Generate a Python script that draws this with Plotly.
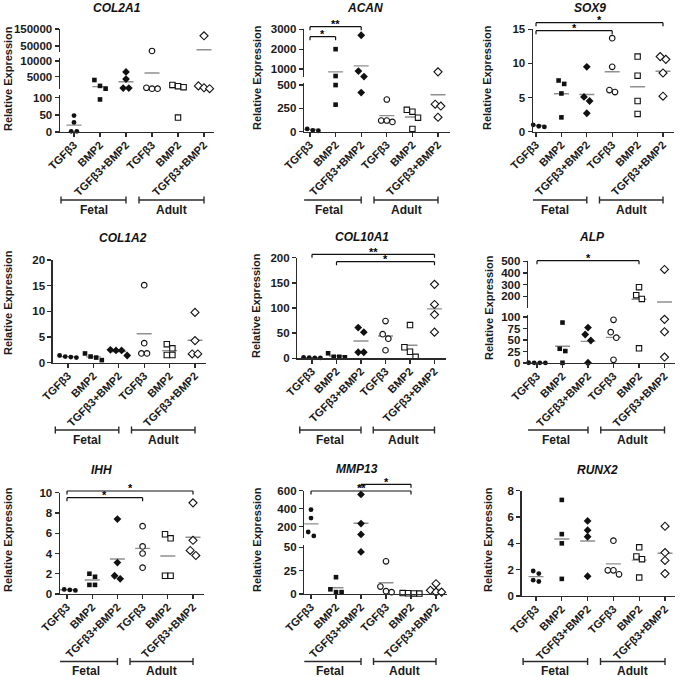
import numpy as np
import plotly.graph_objects as go

W, H = 680, 677

CATEGORIES = ["TGFβ3", "BMP2", "TGFβ3+BMP2", "TGFβ3", "BMP2", "TGFβ3+BMP2"]
GROUP_LABELS = ["Fetal", "Adult"]
Y_TITLE = "Relative Expression"

# Relative expression, 6 conditions x 4 donors
# order: Fetal TGFb3, Fetal BMP2, Fetal TGFb3+BMP2, Adult TGFb3, Adult BMP2, Adult TGFb3+BMP2
COL2A1 = [[48, 28, 2, 2], [3900, 2000, 1100, 95], [6500, 4200, 1300, 1300],
          [21000, 1400, 1100, 1100], [2300, 1900, 1600, 42], [110000, 2000, 1400, 1100]]
ACAN = [[45, 15, 10, 30], [2000, 650, 500, 290], [2700, 900, 620, 420],
        [345, 120, 105, 120], [215, 235, 150, 30], [860, 295, 275, 155]]
SOX9 = [[0.7, 1.1, 1.0, 0.8], [7.0, 7.5, 5.6, 2.1], [9.5, 5.1, 4.5, 2.7],
        [13.7, 9.5, 5.8, 6.1], [11.0, 8.2, 4.5, 2.6], [10.6, 11.0, 8.6, 5.2]]
COL1A2 = [[1.1, 1.0, 1.4, 1.2], [1.0, 1.8, 0.5, 1.2], [2.4, 1.4, 2.5, 2.4],
          [15.1, 3.8, 1.8, 1.8], [3.6, 2.8, 1.5, 1.5], [9.8, 4.3, 1.7, 1.7]]
COL10A1 = [[1.0, 1.5, 2.0, 1.0], [10, 3, 2, 3], [61, 52, 12, 12],
           [74, 48, 39, 16], [66, 22, 13, 3], [147, 107, 87, 52]]
ALP = [[0.5, 0.3, 0.4, 0.2], [88, 31, 26, 0.5], [77, 62, 49, 0.5],
       [94, 67, 55, 7], [278, 210, 178, 32], [430, 95, 68, 13]]
IHH = [[0.4, 0.35, 0.5, 0.45], [2.0, 1.7, 0.9, 0.9], [7.4, 3.1, 1.5, 1.8],
       [6.7, 4.7, 4.0, 2.6], [5.9, 5.5, 1.8, 1.8], [9.0, 5.3, 3.8, 4.3]]
MMP13 = [[390, 297, 142, 98], [18, 5, 2, 2], [560, 236, 115, 45],
         [35, 8, 2, 3], [0.5, 0.8, 1.0, 0.6], [11, 4, 2, 2]]
RUNX2 = [[1.9, 1.7, 1.1, 1.2], [7.3, 4.7, 4.0, 1.3], [5.7, 5.0, 4.5, 1.5],
         [4.2, 1.95, 1.65, 1.95], [3.7, 3.0, 2.8, 1.4], [5.3, 3.3, 2.7, 1.7]]

# y tick labels per axis segment (bottom segment first)
COL2A1_TICKS = [[0, 50, 100], [5000, 10000], [50000, 150000]]
ACAN_TICKS = [[0, 250, 500], [1000, 2000, 3000]]
SOX9_TICKS = [[0, 5, 10, 15]]
COL1A2_TICKS = [[0, 5, 10, 15, 20]]
COL10A1_TICKS = [[0, 50, 100, 150, 200]]
ALP_TICKS = [[0, 25, 50, 75, 100], [200, 300, 400, 500]]
IHH_TICKS = [[0, 2, 4, 6, 8, 10]]
MMP13_TICKS = [[0, 25, 50], [200, 400, 600]]
RUNX2_TICKS = [[0, 2, 4, 6, 8]]

# significance comparisons: (from condition, to condition, label)
ACAN_SIG = [(0, 1, "*"), (0, 2, "**")]
SOX9_SIG = [(0, 3, "*"), (0, 5, "*")]
COL10A1_SIG = [(0, 5, "**"), (1, 5, "*")]
ALP_SIG = [(0, 4, "*")]
IHH_SIG = [(0, 3, "*"), (0, 5, "*")]
MMP13_SIG = [(0, 4, "**"), (2, 4, "*")]

PANELS = [
    ("COL2A1", COL2A1, COL2A1_TICKS, []),
    ("ACAN", ACAN, ACAN_TICKS, ACAN_SIG),
    ("SOX9", SOX9, SOX9_TICKS, SOX9_SIG),
    ("COL1A2", COL1A2, COL1A2_TICKS, []),
    ("COL10A1", COL10A1, COL10A1_TICKS, COL10A1_SIG),
    ("ALP", ALP, ALP_TICKS, ALP_SIG),
    ("IHH", IHH, IHH_TICKS, IHH_SIG),
    ("MMP13", MMP13, MMP13_TICKS, MMP13_SIG),
    ("RUNX2", RUNX2, RUNX2_TICKS, []),
]

# ---------------- layout (pixel geometry) ----------------
# segs: (range lo, range hi, pixel bottom, pixel top)
LAYOUT = {
    "COL2A1": dict(segs=[(0, 108, 132, 95), (1000, 11000, 89, 58), (15000, 150000, 52, 29)],
                   cat0=74, sp=26, left=-0.54, right=5.4, title=(117, 8), ytitle=(8, 79),
                   brk=200, grp=209.5, sig=[]),
    "ACAN": dict(segs=[(0, 520, 131.7, 83.2), (600, 3000, 77, 29.3)],
                 cat0=310, sp=25.6, left=-0.23, right=5.45, title=(365, 8), ytitle=(257, 78),
                 brk=200, grp=209.5, sig=[36.7, 26.7]),
    "SOX9": dict(segs=[(0, 15, 131.7, 29.3)],
                 cat0=536, sp=25.4, left=-0.12, right=5.45, title=(590, 8.5), ytitle=(487, 78),
                 brk=200, grp=209.5, sig=[30.7, 22.7]),
    "COL1A2": dict(segs=[(0, 20, 362.7, 260)],
                   cat0=68, sp=25.4, left=-0.6, right=5.45, title=(123, 238), ytitle=(8, 303),
                   brk=430, grp=439.5, sig=[]),
    "COL10A1": dict(segs=[(0, 200, 358.3, 257.7)],
                    cat0=312, sp=24.5, left=-0.6, right=5.45, title=(362, 237), ytitle=(256, 306),
                    brk=430, grp=439.5, sig=[254.3, 261.7]),
    "ALP": dict(segs=[(0, 104, 363, 315.2), (100, 500, 308, 261.3)],
                cat0=537, sp=25.5, left=-0.35, right=5.4, title=(592, 237), ytitle=(489, 308),
                brk=430, grp=439.5, sig=[260.7]),
    "IHH": dict(segs=[(0, 10, 594, 492.7)],
                cat0=67, sp=25.2, left=-0.28, right=5.45, title=(101, 470), ytitle=(8, 540),
                brk=661.5, grp=670.5, sig=[497.7, 491]),
    "MMP13": dict(segs=[(0, 53, 594, 544.5), (75, 600, 538, 490.8)],
                  cat0=311, sp=25, left=-0.27, right=5.45, title=(357, 469), ytitle=(257, 540),
                  brk=661.5, grp=670.5, sig=[491, 484.3]),
    "RUNX2": dict(segs=[(0, 8, 596, 490.7)],
                  cat0=536, sp=25.8, left=-0.56, right=5.4, title=(597, 470), ytitle=(488, 540),
                  brk=661.5, grp=670.5, sig=[]),
}

FONT = "Liberation Sans, Arial, Helvetica, sans-serif"
AXIS_COL = "#2b2b2b"
MEAN_COL = "#8f8f8f"
SYMBOLS = ["circle", "square", "diamond", "circle", "square", "diamond"]
SIZES = [4.8, 4.6, 6.0, 5.6, 5.4, 6.2]
FILLED = [True, True, True, False, False, False]


def px2x(px):
    return px / W


def py2y(py):
    return 1 - py / H


def seg_index(v, segs):
    for i, (lo, hi, pb, pt) in enumerate(segs):
        if lo <= v <= hi:
            return i
    if v < segs[0][0]:
        return 0
    if v > segs[-1][1]:
        return len(segs) - 1
    for i in range(len(segs) - 1):
        if segs[i][1] < v < segs[i + 1][0]:
            return i if (v - segs[i][1]) < (segs[i + 1][0] - v) else i + 1
    return 0


def clamp(v, seg):
    return min(max(v, seg[0]), seg[1])


def to_px(v, segs):
    s = segs[seg_index(v, segs)]
    v = clamp(v, s)
    return s[2] + (v - s[0]) / (s[1] - s[0]) * (s[3] - s[2])


def spread(pxs, step=5.6, thr=6.5):
    order = np.argsort(pxs, kind="stable")
    clusters = []
    for idx in order:
        if clusters and pxs[idx] - pxs[clusters[-1][-1]] < thr:
            clusters[-1].append(idx)
        else:
            clusters.append([idx])
    off = np.zeros(len(pxs))
    for c in clusters:
        n = len(c)
        for k, idx in enumerate(c):
            off[idx] = (k - (n - 1) / 2) * step
    return off


fig = go.Figure()
lay = {}
annotations = []
shapes = []
ax_n = 0

for gene, data, ticks, sigs in PANELS:
    L = LAYOUT[gene]
    segs = L["segs"]
    sp = L["sp"]
    x0 = L["cat0"] + L["left"] * sp
    x1 = L["cat0"] + L["right"] * sp
    xdom = [px2x(x0), px2x(x1)]
    refs = []
    for si, (lo, hi, pb, pt) in enumerate(segs):
        ax_n += 1
        sfx = "" if ax_n == 1 else str(ax_n)
        xr, yr = "x" + sfx, "y" + sfx
        bottom = si == 0
        lay["xaxis" + sfx] = dict(
            domain=xdom, range=[L["left"], L["right"]], anchor=yr, visible=bottom,
            showline=True, linecolor=AXIS_COL, linewidth=1.4, mirror=False,
            ticks="outside", ticklen=4, tickwidth=1.3, tickcolor=AXIS_COL,
            tickvals=list(range(6)), ticktext=CATEGORIES, tickangle=-45,
            ticklabelstandoff=-3,
            tickfont=dict(family=FONT, size=11, color="#1a1a1a", weight="bold"),
            showgrid=False, zeroline=False, automargin=False, fixedrange=True,
        )
        lay["yaxis" + sfx] = dict(
            domain=[py2y(pb), py2y(pt)], range=[lo, hi], anchor=xr,
            showline=True, linecolor=AXIS_COL, linewidth=1.4,
            ticks="outside", ticklen=4, tickwidth=1.3, tickcolor=AXIS_COL,
            tickvals=ticks[si], ticktext=[str(t) for t in ticks[si]],
            tickfont=dict(family=FONT, size=11.5, color="#1a1a1a", weight="bold"),
            showgrid=False, zeroline=False, automargin=False, fixedrange=True,
        )
        refs.append((xr, yr))

    # data
    for g in range(6):
        vals = np.array(data[g], dtype=float)
        pxs = np.array([to_px(v, segs) for v in vals])
        off = spread(pxs) / sp
        sidx = np.array([seg_index(v, segs) for v in vals])
        m = float(vals.mean())
        ms = seg_index(m, segs)
        hl = 7.5 / sp
        fig.add_trace(go.Scatter(
            x=[g - hl, g + hl], y=[clamp(m, segs[ms])] * 2,
            xaxis=refs[ms][0], yaxis=refs[ms][1], mode="lines",
            line=dict(color=MEAN_COL, width=1.4), showlegend=False, hoverinfo="skip"))
        for s in sorted(set(sidx)):
            mask = sidx == s
            yv = [clamp(v, segs[s]) for v in vals[mask]]
            if FILLED[g]:
                mk = dict(symbol=SYMBOLS[g], size=SIZES[g], color="#111111",
                          line=dict(width=0))
            else:
                mk = dict(symbol=SYMBOLS[g], size=SIZES[g], color="white",
                          line=dict(width=1.1, color="#111111"))
            fig.add_trace(go.Scatter(
                x=g + off[mask], y=yv, xaxis=refs[s][0], yaxis=refs[s][1],
                mode="markers", marker=mk, cliponaxis=False,
                showlegend=False, hoverinfo="skip"))

    xr_b = refs[0][0]
    xr_t = refs[-1][0]
    # group brackets
    for gi, (a, b) in enumerate([(0, 2), (3, 5)]):
        ya = py2y(L["brk"])
        shapes.append(dict(type="line", xref=xr_b, yref="paper", x0=a - 0.5, x1=b,
                           y0=ya, y1=ya, line=dict(color=AXIS_COL, width=1.4)))
        for xe in (a - 0.5, b):
            shapes.append(dict(type="line", xref=xr_b, yref="paper", x0=xe, x1=xe,
                               y0=py2y(L["brk"] - 3.5), y1=py2y(L["brk"] + 3.5),
                               line=dict(color=AXIS_COL, width=1.4)))
        annotations.append(dict(x=(a - 0.5 + b) / 2, xref=xr_b, y=py2y(L["grp"]), yref="paper",
                                text=GROUP_LABELS[gi], showarrow=False, xanchor="center",
                                yanchor="middle",
                                font=dict(family=FONT, size=12, color="#1a1a1a", weight="bold")))
    # significance brackets
    for (a, b, lab), yp in zip(sigs, L["sig"]):
        shapes.append(dict(type="line", xref=xr_t, yref="paper", x0=a, x1=b,
                           y0=py2y(yp), y1=py2y(yp), line=dict(color="#111111", width=1.2)))
        for xe in (a, b):
            shapes.append(dict(type="line", xref=xr_t, yref="paper", x0=xe, x1=xe,
                               y0=py2y(yp), y1=py2y(yp + 3.5),
                               line=dict(color="#111111", width=1.2)))
        annotations.append(dict(x=(a + b) / 2, xref=xr_t, y=py2y(yp - 2.5), yref="paper",
                                text="<b>%s</b>" % lab, showarrow=False,
                                xanchor="center", yanchor="middle",
                                font=dict(family="Liberation Sans", size=11, color="#000000")))
    # titles
    tx, ty = L["title"]
    annotations.append(dict(x=px2x(tx), y=py2y(ty), xref="paper", yref="paper",
                            text="<b><i>%s</i></b>" % gene, showarrow=False,
                            xanchor="center", yanchor="middle",
                            font=dict(family=FONT, size=12, color="#111111")))
    yx, yy = L["ytitle"]
    annotations.append(dict(x=px2x(yx), y=py2y(yy), xref="paper", yref="paper",
                            text=Y_TITLE, showarrow=False, textangle=-90,
                            xanchor="center", yanchor="middle",
                            font=dict(family=FONT, size=11, color="#1a1a1a", weight="bold")))

fig.update_layout(
    width=W, height=H, margin=dict(l=0, r=0, t=0, b=0),
    paper_bgcolor="white", plot_bgcolor="white",
    annotations=annotations, shapes=shapes, showlegend=False,
    **lay,
)

fig.write_html("out.html", config={"displayModeBar": False, "staticPlot": True})

# remove the default page margin so the figure sits at the window origin
with open("out.html", "r", encoding="utf-8") as f:
    html = f.read()
html = html.replace("<head>", "<head><style>html,body{margin:0;padding:0;overflow:hidden;}</style>", 1)
with open("out.html", "w", encoding="utf-8") as f:
    f.write(html)
